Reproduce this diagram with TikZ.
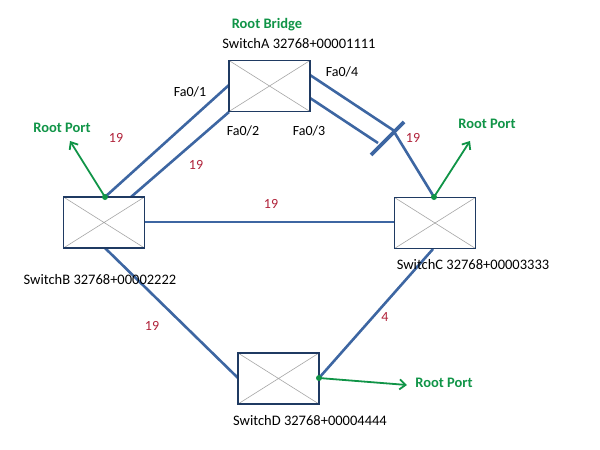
\documentclass[tikz,border=0pt]{standalone}
\usepackage{fontspec}
\setmainfont{Carlito}
\usetikzlibrary{arrows.meta}
\definecolor{linkblue}{HTML}{3D66A2}
\definecolor{boxnavy}{HTML}{1F3A62}
\definecolor{rpgreen}{HTML}{109447}
\definecolor{costred}{HTML}{B0223A}
\tikzset{
  switchbox/.style={draw=boxnavy, line width=1.6pt, fill=white, minimum width=81pt, minimum height=51pt, inner sep=0pt,
    path picture={\draw[gray!70, line width=0.6pt] (path picture bounding box.south west) -- (path picture bounding box.north east) (path picture bounding box.north west) -- (path picture bounding box.south east);}},
  link/.style={draw=linkblue, line width=2.6pt},
  blockbar/.style={draw=linkblue, line width=3.6pt},
  rootarrow/.style={draw=rpgreen, line width=1.8pt, -{Straight Barb[length=6pt,width=10pt,line width=1.8pt]}},
  rpdot/.style={fill=rpgreen, circle, inner sep=0pt, minimum size=6pt},
  greenlbl/.style={text=rpgreen, font=\fontsize{14.5}{16}\selectfont\bfseries, inner sep=0pt},
  namelbl/.style={text=black, font=\fontsize{14.5}{16}\selectfont, inner sep=0pt},
  portlbl/.style={text=black, font=\fontsize{14}{16}\selectfont, inner sep=0pt},
  costlbl/.style={text=costred, font=\fontsize{14}{16}\selectfont, inner sep=0pt}
}
\begin{document}
\begin{tikzpicture}[x=1pt,y=-1pt]
\useasboundingbox (0,0) rectangle (600,450);
% port coordinates
\coordinate (A1) at (229,85);
\coordinate (A2) at (229,112);
\coordinate (A4) at (310,75);
\coordinate (A3) at (310,98);
\coordinate (Bk) at (393,130);
\coordinate (Bend) at (378,143);
\coordinate (barL) at (371,155);
\coordinate (barR) at (404,122);
\coordinate (B1) at (105,197);
\coordinate (B2) at (131,197);
\coordinate (Be) at (145,222);
\coordinate (Bb) at (105,248);
\coordinate (Ct) at (434,197);
\coordinate (Cw) at (394,222);
\coordinate (Cb) at (433,249);
\coordinate (Dw) at (238,378);
\coordinate (De) at (319,378);
\coordinate (rpB) at (70,141);
\coordinate (rpC) at (470,141);
\coordinate (rpD) at (407,385);
% links
\draw[link] (A1) -- (B1);
\draw[link] (A2) -- (B2);
\draw[link] (A4) -- (Bk) -- (Ct);
\draw[link] (A3) -- (Bend);
\draw[blockbar] (barL) -- (barR);
\draw[link] (Be) -- (Cw);
\draw[link] (Bb) -- (Dw);
\draw[link] (Cb) -- (De);
% switches
\node[switchbox] (SA) at (269.5,86) {};
\node[switchbox] (SB) at (104,222.5) {};
\node[switchbox] (SC) at (435,223) {};
\node[switchbox] (SD) at (278.5,378.5) {};
% root ports
\node[rpdot] (dB) at (B1) {};
\node[rpdot] (dC) at (Ct) {};
\node[rpdot] (dD) at (De) {};
\draw[rootarrow] (dB.center) -- (rpB);
\draw[rootarrow] (dC.center) -- (rpC);
\draw[rootarrow] (dD.center) -- (rpD);
% labels
\node[greenlbl] (lRB) at (267,25) {Root Bridge};
\node[namelbl] (nA) at (299,44) {SwitchA 32768+00001111};
\node[namelbl] (nB) at (100,280) {SwitchB 32768+00002222};
\node[namelbl] (nC) at (473,265) {SwitchC 32768+00003333};
\node[namelbl] (nD) at (310,421) {SwitchD 32768+00004444};
\node[greenlbl] (lB) at (62,128) {Root Port};
\node[greenlbl] (lC) at (487,124) {Root Port};
\node[greenlbl] (lD) at (444,383) {Root Port};
\node[portlbl] (p1) at (190,92) {Fa0/1};
\node[portlbl] (p2) at (243,131) {Fa0/2};
\node[portlbl] (p3) at (309,131) {Fa0/3};
\node[portlbl] (p4) at (342,72) {Fa0/4};
\node[costlbl] (c1) at (116,138) {19};
\node[costlbl] (c2) at (196,165) {19};
\node[costlbl] (c3) at (413,138) {19};
\node[costlbl] (c4) at (271,204) {19};
\node[costlbl] (c5) at (152,326) {19};
\node[costlbl] (c6) at (385,317) {4};
\end{tikzpicture}
\end{document}
